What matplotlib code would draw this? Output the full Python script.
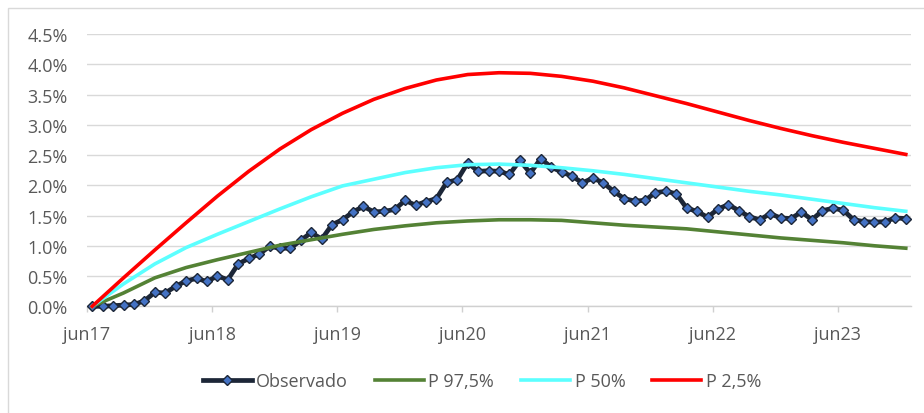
import numpy as np
import matplotlib
matplotlib.use("Agg")
import matplotlib.pyplot as plt
from matplotlib.patches import Rectangle

plt.rcParams['font.family'] = ['Open Sans', 'DejaVu Sans']

# monthly observed values (%), jun17 .. jan24
observado = [0.00, 0.00, 0.01, 0.02, 0.03, 0.09, 0.23, 0.22, 0.33, 0.42,
             0.46, 0.41, 0.50, 0.44, 0.70, 0.79, 0.86, 0.99, 0.96, 0.96,
             1.09, 1.22, 1.11, 1.35, 1.43, 1.56, 1.65, 1.56, 1.57, 1.60,
             1.75, 1.67, 1.73, 1.78, 2.05, 2.09, 2.37, 2.23, 2.24, 2.23,
             2.18, 2.41, 2.20, 2.44, 2.30, 2.22, 2.15, 2.04, 2.12, 2.04,
             1.90, 1.78, 1.74, 1.75, 1.88, 1.90, 1.86, 1.62, 1.57, 1.47,
             1.61, 1.68, 1.58, 1.48, 1.43, 1.53, 1.46, 1.45, 1.56, 1.43,
             1.58, 1.62, 1.59, 1.43, 1.40, 1.39, 1.40, 1.46, 1.45]

# percentile curves, read every 3 months
p_month = list(range(0, 79, 3))
p975 = [0.00, 0.22, 0.47, 0.64, 0.77, 0.89, 1.01, 1.10, 1.19, 1.27,
        1.33, 1.38, 1.41, 1.43, 1.43, 1.42, 1.38, 1.34, 1.31, 1.28,
        1.23, 1.18, 1.13, 1.09, 1.05, 1.00, 0.96]
p50 = [0.00, 0.37, 0.70, 0.97, 1.19, 1.40, 1.61, 1.81, 1.99, 2.10,
       2.21, 2.29, 2.34, 2.35, 2.33, 2.29, 2.24, 2.18, 2.11, 2.04,
       1.97, 1.90, 1.84, 1.77, 1.70, 1.63, 1.57]
p25 = [0.00, 0.47, 0.93, 1.38, 1.82, 2.23, 2.60, 2.92, 3.19, 3.42,
       3.60, 3.74, 3.83, 3.86, 3.85, 3.80, 3.72, 3.61, 3.48, 3.35,
       3.21, 3.07, 2.94, 2.82, 2.71, 2.61, 2.51]

tick_labels = ['jun17', 'jun18', 'jun19', 'jun20', 'jun21', 'jun22', 'jun23']

W, H = 924, 414
fig = plt.figure(figsize=(W / 100, H / 100), dpi=100)
ax = fig.add_axes([87 / W, 1 - 307.3 / H, (911 - 87) / W, (307.3 - 35) / H])

months = np.arange(len(observado))
ax.plot(months, observado, color='#1C2637', lw=3.4, marker='D', ms=5.5,
        mfc='#4472C4', mec='#1C2637', mew=1, label='Observado', clip_on=False, zorder=3)
ax.plot(p_month, p975, color='#548235', lw=2.6, label='P 97,5%', clip_on=False, zorder=4)
ax.plot(p_month, p50, color='#5CFFFF', lw=2.6, label='P 50%', clip_on=False, zorder=5)
ax.plot(p_month, p25, color='#FF0000', lw=2.6, label='P 2,5%', clip_on=False, zorder=6)

ax.set_xlim(-0.5, len(observado) - 0.5)
ax.set_ylim(0, 4.5)
ax.set_yticks(np.arange(0, 4.51, 0.5))
ax.set_yticklabels([f'{v:.1f}%' for v in np.arange(0, 4.51, 0.5)])
ax.set_xticks(np.arange(len(tick_labels)) * 12 - 0.5)
ax.set_xticklabels(tick_labels)

ax.grid(axis='y', color='#D9D9D9', lw=1)
ax.set_axisbelow(True)
for s in ['top', 'right', 'left']:
    ax.spines[s].set_visible(False)
ax.spines['bottom'].set_color('#D0D0D0')
ax.spines['bottom'].set_linewidth(1)
ax.tick_params(axis='y', length=0, pad=14, labelsize=13, labelcolor='#595959')
ax.tick_params(axis='x', length=4.5, width=1, color='#D0D0D0', pad=9,
               labelsize=13, labelcolor='#595959')

leg = fig.legend(loc='center', bbox_to_anchor=(482 / W, 1 - 382 / H), ncol=4,
                 frameon=False, fontsize=13, handlelength=2.7, handletextpad=0.25,
                 columnspacing=1.5)
for t in leg.get_texts():
    t.set_color('#595959')

# chart border (partly cropped)
fig.add_artist(Rectangle((8 / W, -0.1), 1.1, 1.1 - 9 / H, transform=fig.transFigure,
                         fill=False, ec='#D9D9D9', lw=1))

fig.savefig('out.png', dpi=100)
